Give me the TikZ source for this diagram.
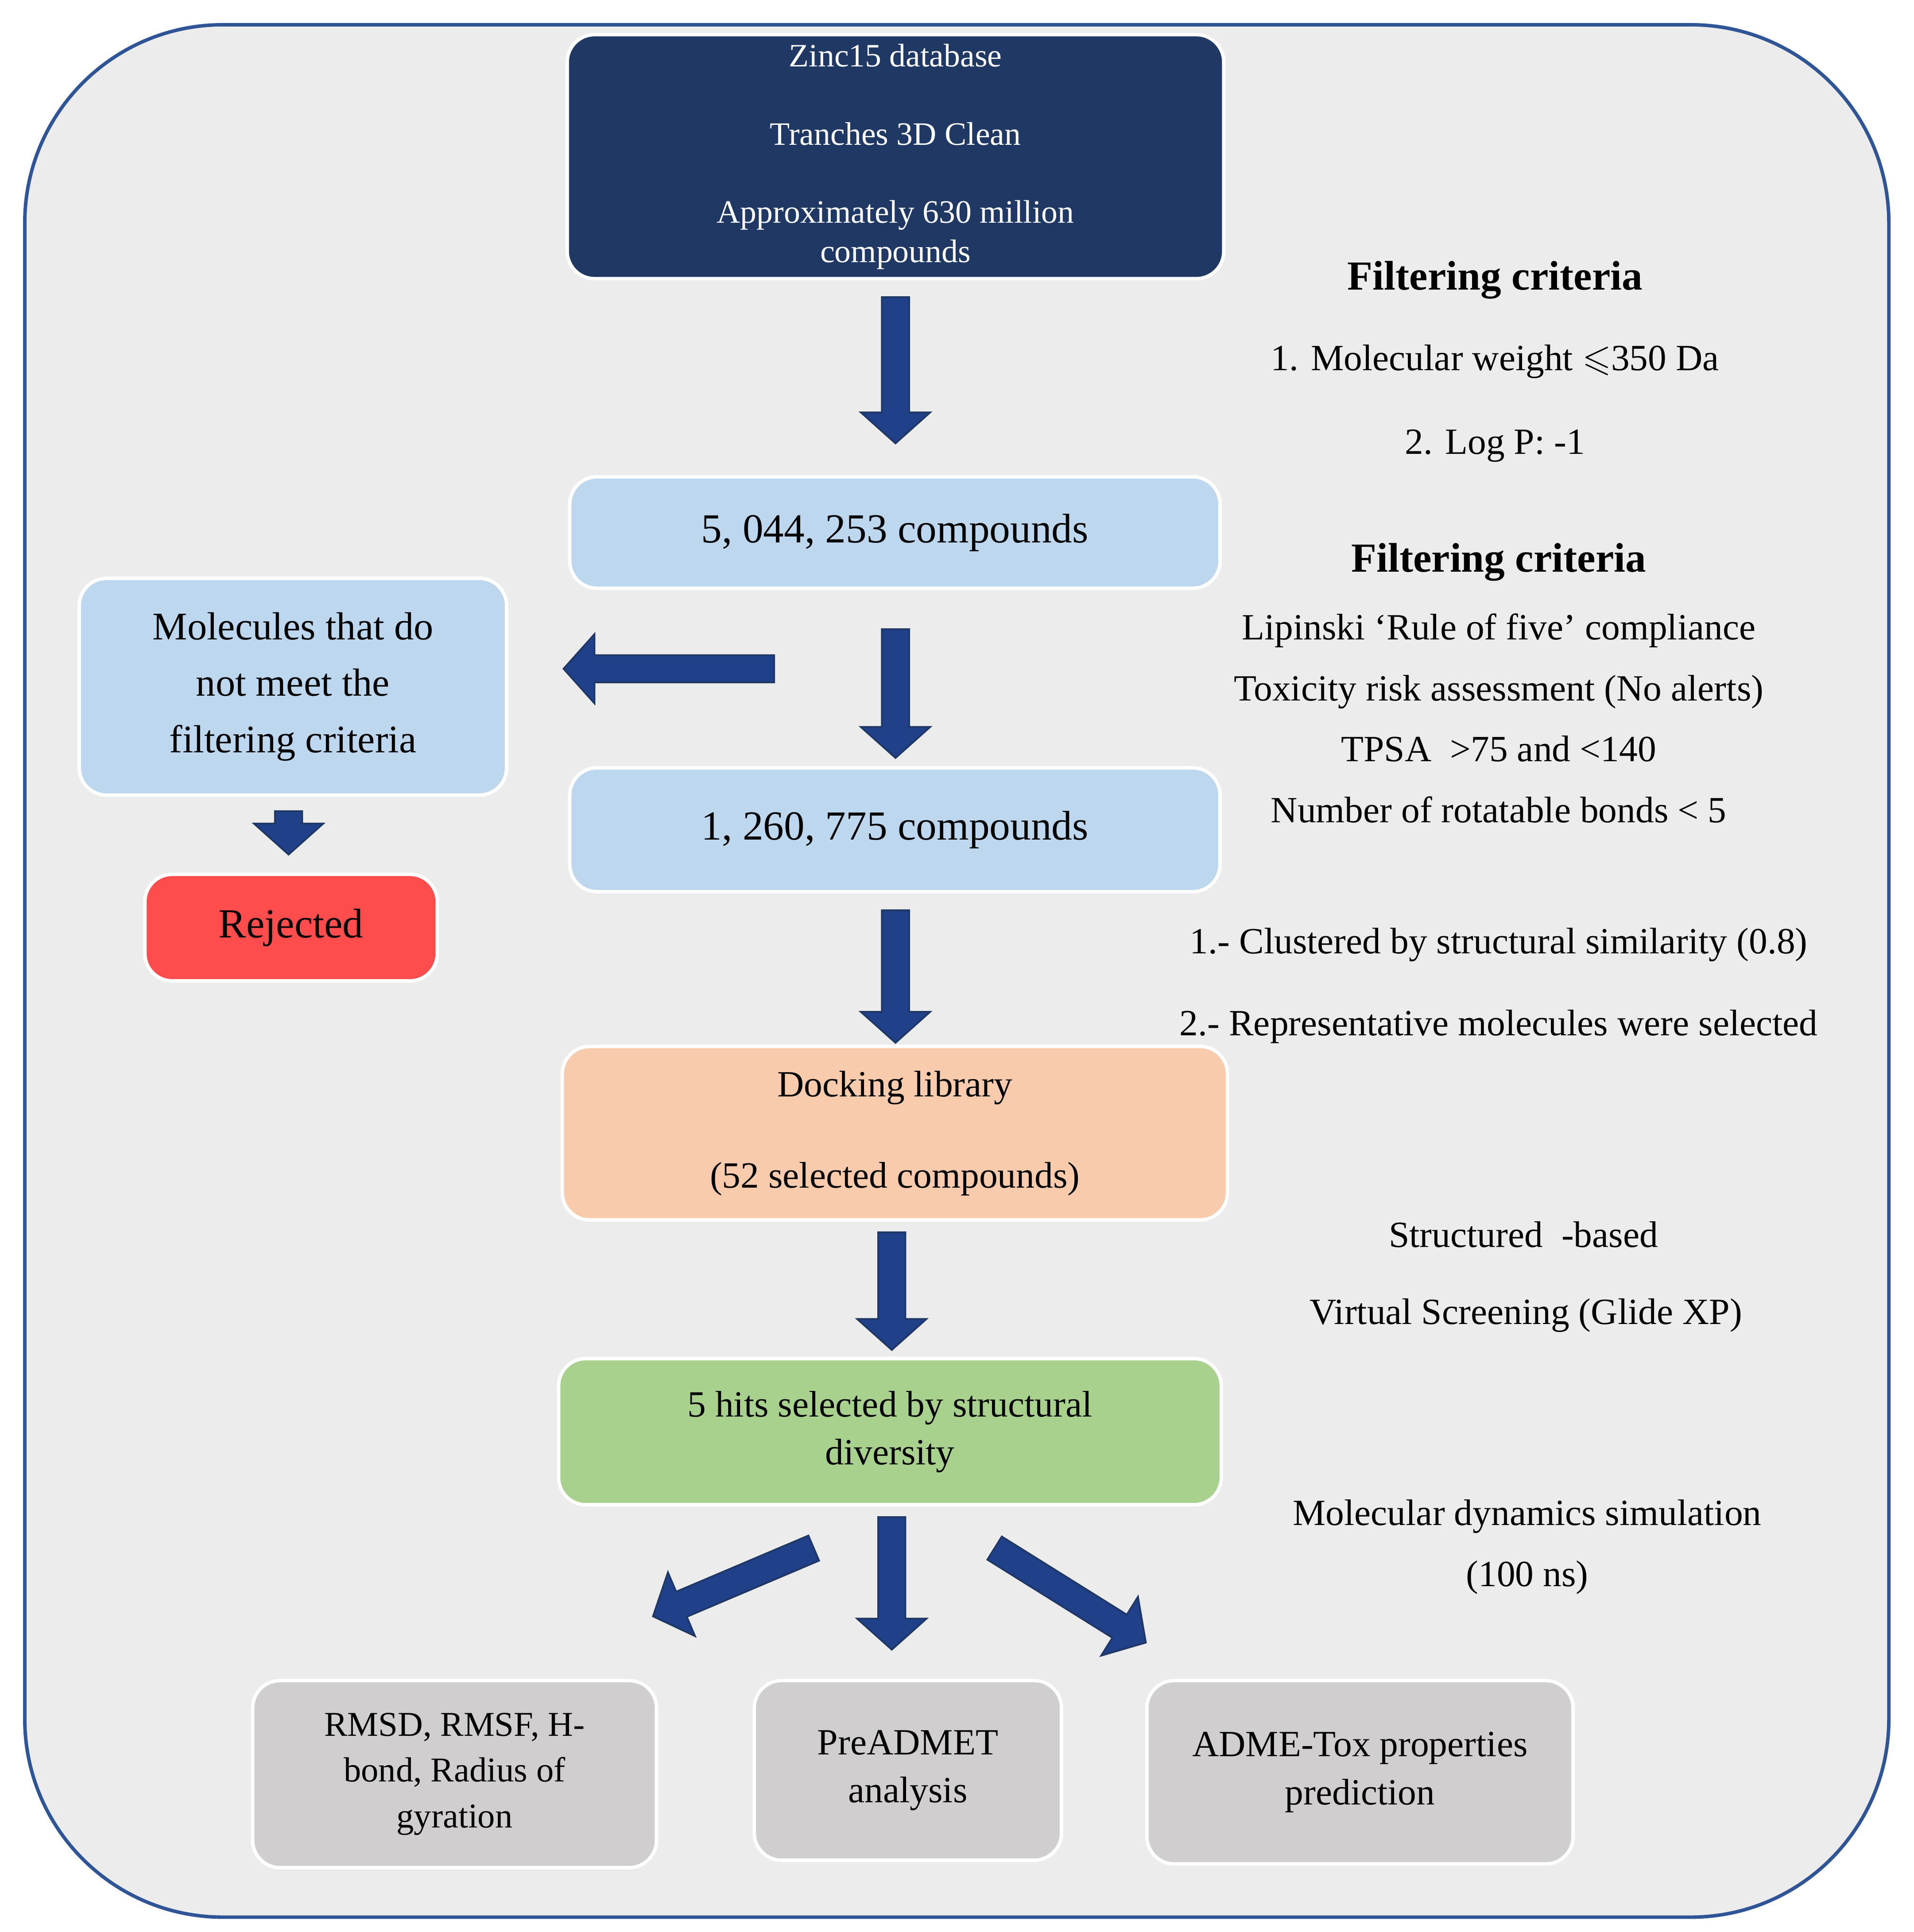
\documentclass[tikz,border=0pt]{standalone}
\usepackage{amssymb}
\usepackage{fontspec}
\setmainfont{Liberation Serif}
\usetikzlibrary{positioning}
\definecolor{navy}{HTML}{1F3864}
\definecolor{lblue}{HTML}{BDD7EE}
\definecolor{peach}{HTML}{F8CBAD}
\definecolor{lgreen}{HTML}{A9D18E}
\definecolor{lgray}{HTML}{D0CECE}
\definecolor{bgray}{HTML}{ECECEC}
\definecolor{frame}{HTML}{2F5597}
\definecolor{arrowfill}{HTML}{20408A}
\tikzset{
  box/.style={rounded corners=0.22cm, draw=white, line width=0.8pt, align=center, inner sep=0pt},
  note/.style={align=center, font=\fontsize{8.5}{10}\selectfont},
  pics/barrow/.style={code={
    \fill[arrowfill, draw=navy] (0,0.11) -- (#1-0.25,0.11) -- (#1-0.25,0.28) -- (#1,0)
      -- (#1-0.25,-0.28) -- (#1-0.25,-0.11) -- (0,-0.11) -- cycle;}}
}
\begin{document}
\begin{tikzpicture}
\useasboundingbox (0,0) rectangle (15.45,-15.6);
\draw[frame, fill=bgray, line width=0.8pt, rounded corners=1.6cm] (0.2,-0.2) rectangle (15.25,-15.48);

% boxes
\node[box, fill=navy, text=white, minimum width=5.3cm, minimum height=1.97cm, font=\fontsize{7.5}{9}\selectfont]
  (zinc) at (7.23,-1.265) {Zinc15 database\\[2.6ex] Tranches 3D Clean\\[2.6ex] Approximately 630 million\\ compounds};
\node[box, fill=lblue, minimum width=5.25cm, minimum height=0.9cm, font=\fontsize{9.5}{11}\selectfont]
  (first) at (7.225,-4.3) {5, 044, 253 compounds};
\node[box, fill=lblue, minimum width=3.45cm, minimum height=1.75cm, font=\fontsize{9}{13}\selectfont]
  (reject) at (2.365,-5.545) {Molecules that do\\ not meet the\\ filtering criteria};
\node[box, fill=red!70!white, minimum width=2.36cm, minimum height=0.86cm, font=\fontsize{9.5}{11}\selectfont]
  (rejected) at (2.35,-7.49) {Rejected};
\node[box, fill=lblue, minimum width=5.25cm, minimum height=1.0cm, font=\fontsize{9.5}{11}\selectfont]
  (second) at (7.225,-6.7) {1, 260, 775 compounds};
\node[box, fill=peach, minimum width=5.37cm, minimum height=1.4cm, font=\fontsize{8.5}{10}\selectfont]
  (dock) at (7.225,-9.15) {Docking library\\[2.8ex] (52 selected compounds)};
\node[box, fill=lgreen, minimum width=5.35cm, minimum height=1.18cm, font=\fontsize{8.5}{11}\selectfont]
  (hits) at (7.185,-11.56) {5 hits selected by structural\\ diversity};
\node[box, fill=lgray, minimum width=3.26cm, minimum height=1.51cm, font=\fontsize{8}{10.5}\selectfont]
  (md) at (3.67,-14.325) {RMSD, RMSF, H-\\ bond, Radius of\\ gyration};
\node[box, fill=lgray, minimum width=2.48cm, minimum height=1.45cm, font=\fontsize{8.5}{11}\selectfont]
  (pre) at (7.33,-14.295) {PreADMET\\ analysis};
\node[box, fill=lgray, minimum width=3.44cm, minimum height=1.48cm, font=\fontsize{8.5}{11}\selectfont]
  (adme) at (10.98,-14.31) {ADME-Tox properties\\ prediction};

% block arrows
\pic[rotate=-90] at (7.23,-2.4) {barrow=1.18};
\pic[rotate=-90] at (7.23,-5.08) {barrow=1.04};
\pic[rotate=180] at (6.25,-5.4) {barrow=1.7};
\pic[rotate=-90] at (2.33,-6.55) {barrow=0.35};
\pic[rotate=-90] at (7.23,-7.35) {barrow=1.07};
\pic[rotate=-90] at (7.2,-9.95) {barrow=0.95};
\pic[rotate=-90] at (7.2,-12.25) {barrow=1.07};
\pic[rotate=-157] at (6.57,-12.5) {barrow=1.41};
\pic[rotate=-32] at (8.03,-12.5) {barrow=1.44};

% notes
\node[note, font=\bfseries\fontsize{9.5}{11}\selectfont] (fc1) at (12.07,-2.26) {Filtering criteria};
\node[note] (mw) at (12.07,-2.92) {1. Molecular weight $\leqslant$350 Da};
\node[note] (logp) at (12.07,-3.6) {2. Log P: -1};
\node[note, font=\bfseries\fontsize{9.5}{11}\selectfont] (fc2) at (12.1,-4.54) {Filtering criteria};
\node[note, font=\fontsize{8.5}{14}\selectfont] (lip) at (12.1,-5.8) {Lipinski `Rule of five' compliance\\ Toxicity risk assessment (No alerts)\\ TPSA \ >75 and <140\\ Number of rotatable bonds < 5};
\node[note] (clu) at (12.1,-7.63) {1.- Clustered by structural similarity (0.8)};
\node[note] (rep) at (12.1,-8.29) {2.- Representative molecules were selected};
\node[note] (sb) at (12.3,-9.97) {Structured \ -based};
\node[note] (vs) at (12.32,-10.62) {Virtual Screening (Glide XP)};
\node[note, font=\fontsize{8.5}{14}\selectfont] (mds) at (12.33,-12.49) {Molecular dynamics simulation\\ (100 ns)};
\end{tikzpicture}
\end{document}
